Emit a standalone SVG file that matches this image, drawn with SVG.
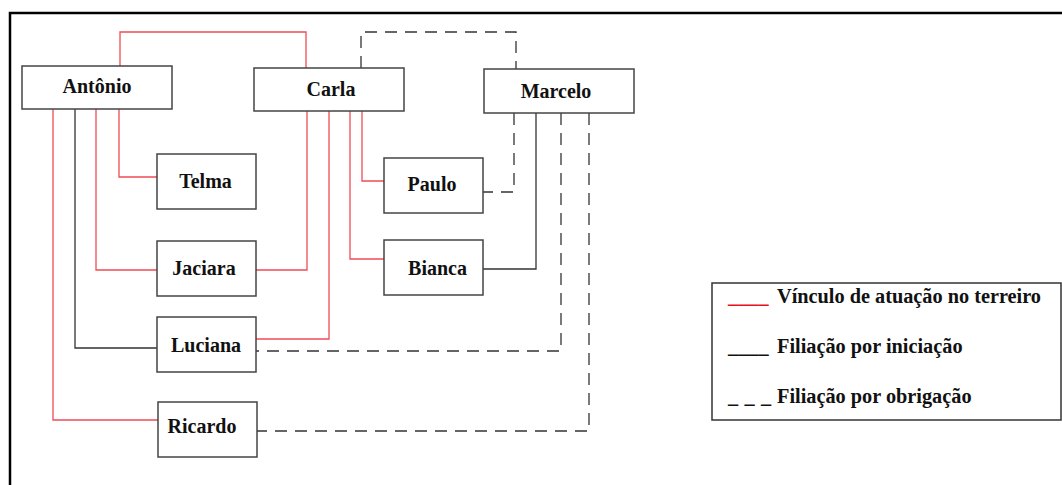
<svg xmlns="http://www.w3.org/2000/svg" width="1062" height="485" viewBox="0 0 1062 485">
<style>
.box{fill:#fff;stroke:#444;stroke-width:1.5}
.lbl{font-family:"Liberation Serif","Times New Roman",serif;font-weight:bold;font-size:20px;fill:#111;text-anchor:middle}
.leg{font-family:"Liberation Serif","Times New Roman",serif;font-weight:bold;font-size:20.3px;fill:#111}
.red{fill:none;stroke:#ef4b55;stroke-width:1.3}
.blk{fill:none;stroke:#333;stroke-width:1.3}
.dsh{fill:none;stroke:#333;stroke-width:1.3;stroke-dasharray:12 8}
</style>
<rect x="0" y="0" width="1062" height="485" fill="#fff"/>
<path d="M10 490 V13 H1070" fill="none" stroke="#000" stroke-width="2.5"/>
<g id="connectors">
<path class="red" d="M120 66 V32 H306 V68"/>
<path class="dsh" d="M361 68 V32 H516 V69"/>
<path class="red" d="M119 109 V177 H157"/>
<path class="red" d="M96 109 V270 H157"/>
<path class="blk" d="M75 109 V348 H157"/>
<path class="red" d="M53 109 V420 H158"/>
<path class="red" d="M362 111 V181 H384"/>
<path class="red" d="M350 111 V259 H384"/>
<path class="red" d="M307 111 V270 H256"/>
<path class="red" d="M329 111 V339 H256"/>
<path class="dsh" d="M514 113 V192 H483"/>
<path class="blk" d="M536 113 V269 H483"/>
<path class="dsh" d="M561 113 V351 H256"/>
<path class="dsh" d="M589 113 V431 H257"/>
</g>
<g id="antonio"><rect class="box" x="22" y="66" width="150" height="43"/><text class="lbl" x="97" y="93">Antônio</text></g>
<g id="carla"><rect class="box" x="254" y="68" width="150" height="43"/><text class="lbl" x="331" y="96">Carla</text></g>
<g id="marcelo"><rect class="box" x="484" y="69" width="150" height="44"/><text class="lbl" x="556" y="97.5">Marcelo</text></g>
<g id="telma"><rect class="box" x="157" y="154" width="99" height="55"/><text class="lbl" x="205.5" y="188">Telma</text></g>
<g id="paulo"><rect class="box" x="384" y="158" width="99" height="55"/><text class="lbl" x="432" y="191">Paulo</text></g>
<g id="jaciara"><rect class="box" x="157" y="241" width="99" height="55"/><text class="lbl" x="204" y="275">Jaciara</text></g>
<g id="bianca"><rect class="box" x="384" y="240" width="99" height="55"/><text class="lbl" x="437.5" y="275">Bianca</text></g>
<g id="luciana"><rect class="box" x="157" y="317" width="99" height="55"/><text class="lbl" x="206" y="352">Luciana</text></g>
<g id="ricardo"><rect class="box" x="158" y="402" width="99" height="55"/><text class="lbl" x="202" y="433">Ricardo</text></g>
<g id="legend">
<rect x="712" y="283" width="349" height="137" fill="#fff" stroke="#333" stroke-width="1.5"/>
<text class="leg" x="728" y="303" style="fill:#e8101c">____</text>
<text class="leg" x="777" y="303">Vínculo de atuação no terreiro</text>
<text class="leg" x="728" y="353">____</text>
<text class="leg" x="777" y="353">Filiação por iniciação</text>
<text class="leg" y="403"><tspan x="728">_</tspan><tspan x="744.5">_</tspan><tspan x="761">_</tspan></text>
<text class="leg" x="777" y="403">Filiação por obrigação</text>
</g>
</svg>
